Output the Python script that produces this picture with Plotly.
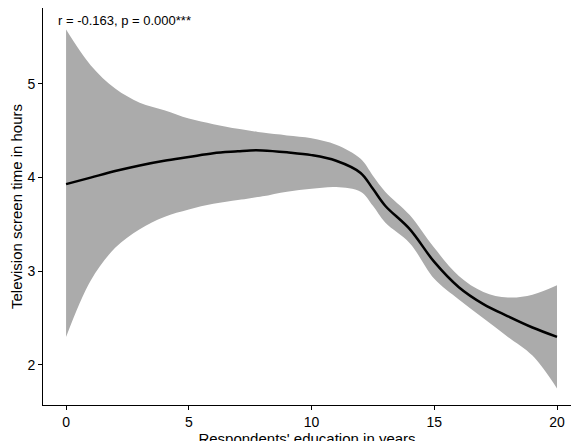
import plotly.graph_objects as go

edu = [0, 1, 2, 3, 4, 5, 6, 7, 7.5, 8, 9, 10, 11, 12, 12.5, 13, 14, 15, 16, 17, 18, 19, 20]
fit = [3.93, 4.0, 4.07, 4.13, 4.18, 4.22, 4.26, 4.28, 4.29, 4.29, 4.27, 4.24, 4.18, 4.05, 3.88, 3.7, 3.45, 3.1, 2.83, 2.65, 2.52, 2.4, 2.3]
upper = [5.58, 5.2, 4.95, 4.8, 4.72, 4.63, 4.57, 4.52, 4.5, 4.48, 4.45, 4.42, 4.35, 4.2, 4.02, 3.85, 3.6, 3.25, 2.95, 2.78, 2.72, 2.75, 2.85]
lower = [2.3, 2.9, 3.25, 3.45, 3.58, 3.66, 3.72, 3.76, 3.78, 3.8, 3.85, 3.88, 3.9, 3.85, 3.7, 3.52, 3.3, 2.92, 2.7, 2.5, 2.3, 2.1, 1.75]

fig = go.Figure()
fig.add_trace(go.Scatter(x=edu, y=upper, mode="lines", line=dict(width=0, shape="spline"), showlegend=False, hoverinfo="skip"))
fig.add_trace(go.Scatter(x=edu, y=lower, mode="lines", line=dict(width=0, shape="spline"), fill="tonexty", fillcolor="#ababab", showlegend=False, hoverinfo="skip"))
fig.add_trace(go.Scatter(x=edu, y=fit, mode="lines", line=dict(color="black", width=2.5, shape="spline"), showlegend=False))

axis = dict(showline=True, linecolor="black", linewidth=1, ticks="outside", tickcolor="black", ticklen=4,
            showgrid=False, zeroline=False, tickfont=dict(size=14, color="black"))
fig.update_layout(
    width=581, height=441, plot_bgcolor="white", paper_bgcolor="white",
    margin=dict(l=35, r=18, t=0, b=44),
    font=dict(family="Liberation Sans, Arial, sans-serif", color="black"),
    xaxis=dict(axis, range=[-0.94, 20.57], tickvals=[0, 5, 10, 15, 20],
               title=dict(text="Respondents' education in years", font=dict(size=15), standoff=0)),
    yaxis=dict(axis, range=[1.573, 5.81], tickvals=[2, 3, 4, 5],
               title=dict(text="Television screen time in hours", font=dict(size=15), standoff=6)),
    annotations=[dict(x=-0.4, y=5.78, xref="x", yref="y", xanchor="left", yanchor="top",
                      text="r = -0.163, p = 0.000***", showarrow=False, font=dict(size=13, color="black"))],
)
fig.write_html("out.html")
